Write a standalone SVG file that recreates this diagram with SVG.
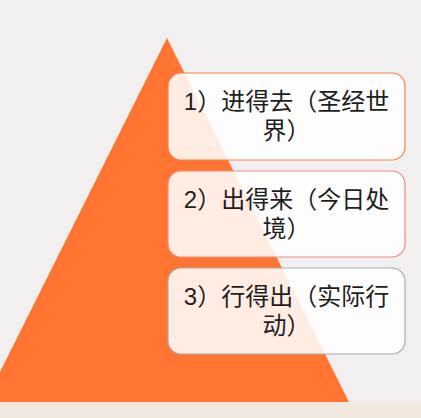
<svg xmlns="http://www.w3.org/2000/svg" width="421" height="418" viewBox="0 0 421 418">
<style>
.box{fill:#ffffff;fill-opacity:0.87;stroke-width:1.2}
.t{font-family:"Liberation Sans","Noto Sans CJK SC",sans-serif;font-size:24px;fill:#1e1e1e;text-anchor:middle}
</style>
<rect x="0" y="0" width="421" height="418" fill="#f2eff0"/>
<rect x="0" y="402" width="421" height="16" fill="#f1e9df"/>
<polygon id="pyramid" points="167,38 349,402 -15,402" fill="#fe7430"/>
<g id="connectors"></g>
<g id="node1">
<rect class="box" x="168" y="73" width="237" height="87" rx="13" stroke="#f38444"/>
<text class="t" x="286.5" y="110">1）进得去（圣经世</text>
<text class="t" x="286.5" y="139">界）</text>
</g>
<g id="node2">
<rect class="box" x="168" y="171" width="237" height="86" rx="13" stroke="#ee8d80"/>
<text class="t" x="286.5" y="208">2）出得来（今日处</text>
<text class="t" x="286.5" y="237">境）</text>
</g>
<g id="node3">
<rect class="box" x="168" y="268" width="237" height="86" rx="13" stroke="#ababab"/>
<text class="t" x="286.5" y="305">3）行得出（实际行</text>
<text class="t" x="286.5" y="334">动）</text>
</g>
</svg>
